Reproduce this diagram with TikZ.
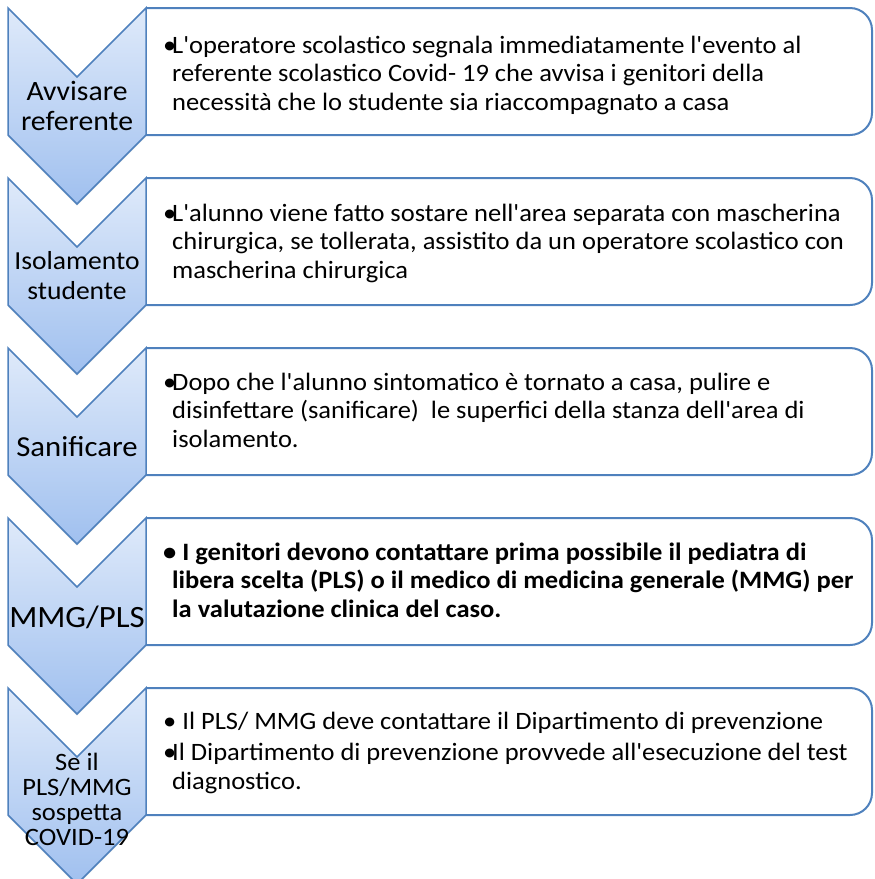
\documentclass[tikz,border=0pt]{standalone}
\usepackage{fontspec}
\setmainfont{Carlito}[Ligatures=TeXOff,FakeStretch=1.06]
\usetikzlibrary{shadows}
\definecolor{chevtop}{RGB}{223,234,250}
\definecolor{chevbot}{RGB}{160,192,239}
\definecolor{edgeblue}{RGB}{79,129,189}
\newcommand{\bul}{\makebox[9pt][l]{\textbullet}}
\newcommand{\ind}{\hspace*{9pt}}
\newcommand{\chevshape}[1]{%
  \path[chevron] (8,#1) -- ++(69,69) -- ++(69,-69) -- ++(0,127) -- ++(-69,69) -- ++(-69,-69) -- cycle;}
\newcommand{\panelbox}[1]{%
  \draw[panel] (146,#1) [rounded corners=22pt] -- (872,#1) -- (872,#1+127) -- (146,#1+127);}

\begin{document}
\begin{tikzpicture}[x=1pt,y=-1pt,
    chevron/.style={draw=edgeblue,line width=1.5pt,top color=chevtop,bottom color=chevbot,
      drop shadow={opacity=.25,shadow xshift=0pt,shadow yshift=-1.5pt}},
    panel/.style={draw=edgeblue,line width=2pt},
    chevlabel/.style={align=center,inner sep=0pt},
    body/.style={anchor=north west,align=left,inner sep=0pt,font=\fontsize{25}{28.5}\selectfont}]
\useasboundingbox (0,0) rectangle (875,879);

\panelbox{8}
\panelbox{178}
\panelbox{348}
\panelbox{518}
\panelbox{688}

\chevshape{8}
\chevshape{178}
\chevshape{348}
\chevshape{518}
\chevshape{688}

\node[chevlabel,font=\fontsize{28}{30}\selectfont] (avvisare) at (77,106) {Avvisare\\referente};
\node[chevlabel,font=\fontsize{26}{30}\selectfont] (isolamento) at (77,276) {Isolamento\\studente};
\node[chevlabel,font=\fontsize{29}{33}\selectfont] (sanificare) at (77,447) {Sanificare};
\node[chevlabel,font=\fontsize{31}{33}\selectfont] (mmgpls) at (77,617) {MMG/PLS};
\node[chevlabel,font=\fontsize{25}{25}\selectfont] (sospetto) at (77,799) {Se il\\PLS/MMG\\sospetta\\COVID-19};

\node[body] (avvisotxt) at (163,33) {\strut\bul L'operatore scolastico segnala immediatamente l'evento al\\
  \ind referente scolastico Covid- 19 che avvisa i genitori della\\
  \ind necessità che lo studente sia riaccompagnato a casa};
\node[body] (isolamentotxt) at (163,201) {\strut\bul L'alunno viene fatto sostare nell'area separata con mascherina\\
  \ind chirurgica, se tollerata, assistito da un operatore scolastico con\\
  \ind mascherina chirurgica};
\node[body] (sanificaretxt) at (163,370) {\strut\bul Dopo che l'alunno sintomatico è tornato a casa, pulire e\\
  \ind disinfettare (sanificare)~ le superfici della stanza dell'area di\\
  \ind isolamento.};
\node[body,font=\fontsize{25}{28.5}\selectfont\bfseries] (mmgplstxt) at (163,540) {\strut\textbullet{} I genitori devono contattare prima possibile il pediatra di\\
  \ind libera scelta (PLS) o il medico di medicina generale (MMG) per\\
  \ind la valutazione clinica del caso.};
\node[body] (sospettotxt) at (163,709) {\strut\textbullet{} Il PLS/ MMG deve contattare il Dipartimento di prevenzione\\[3pt]
  \bul Il Dipartimento di prevenzione provvede all'esecuzione del test\\
  \ind diagnostico.};
\end{tikzpicture}
\end{document}
